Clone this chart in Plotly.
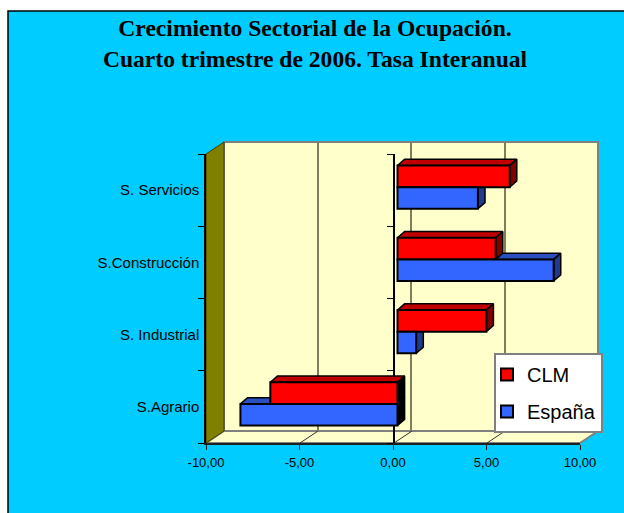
import plotly.graph_objects as go

categories = ["S.Agrario", "S. Industrial", "S.Construcción", "S. Servicios"]
clm = [-6.8, 4.75, 5.25, 6.0]
espana = [-8.4, 1.0, 8.35, 4.3]
x_ticks = [-10, -5, 0, 5, 10]
x_tick_labels = ["-10,00", "-5,00", "0,00", "5,00", "10,00"]

W, H = 624, 513
BLUE, RED = "#3366FF", "#FF0000"
BG = "#00CCFF"
WALL = "#FFFFCC"
OLIVE = "#808000"
GREY = "#808080"

def xd(a, b):
    return [a / W, b / W]

def yd(bottom, top):
    return [1 - bottom / H, 1 - top / H]

def px(x):
    return x / W

def py(y):
    return 1 - y / H

fig = go.Figure()

# back wall grid
fig.add_trace(go.Scatter(x=[], y=[], xaxis="x2", yaxis="y2", showlegend=False))

# depth faces of the bars, derived from the data
DX, DY, BH = 0.38, 0.085, 0.3

def faces(values, base, top_col, side_col):
    for i, v in enumerate(values):
        y0, y1 = i + base, i + base + BH
        lo, hi = min(v, 0), max(v, 0)
        fig.add_trace(go.Scatter(
            x=[lo, hi, hi + DX, lo + DX, lo], y=[y1, y1, y1 + DY, y1 + DY, y1],
            xaxis="x3", yaxis="y3", mode="lines", fill="toself", fillcolor=top_col,
            line=dict(color="black", width=1.5), showlegend=False, hoverinfo="skip"))
        fig.add_trace(go.Scatter(
            x=[hi, hi + DX, hi + DX, hi, hi], y=[y0, y0 + DY, y1 + DY, y1, y0],
            xaxis="x3", yaxis="y3", mode="lines", fill="toself",
            fillcolor="#000000" if v < 0 else side_col,
            line=dict(color="black", width=1.5), showlegend=False, hoverinfo="skip"))

faces(espana, -BH, "#2A4FBF", "#1F3A8F")
faces(clm, 0, "#C00000", "#800000")

# CLM first: it leads the legend and, on the reversed axis, sits on top in each group
fig.add_trace(go.Bar(name="CLM", y=categories, x=clm, orientation="h", legendgroup="clm",
                     xaxis="x4", yaxis="y4", marker=dict(color=RED, line=dict(color="black", width=2))))
fig.add_trace(go.Bar(name="España", y=categories, x=espana, orientation="h", legendgroup="esp",
                     xaxis="x4", yaxis="y4", marker=dict(color=BLUE, line=dict(color="black", width=2))))

# front axes and the axis at zero
fig.add_trace(go.Scatter(x=[0], y=[categories[0]], xaxis="x", yaxis="y", mode="none",
                         showlegend=False, hoverinfo="skip"))
fig.add_trace(go.Scatter(x=[0], y=[categories[0]], xaxis="x", yaxis="y5", mode="none",
                         showlegend=False, hoverinfo="skip"))

shapes = [
    dict(type="rect", xref="paper", yref="paper", x0=px(8), x1=px(640), y0=py(11), y1=py(530),
         fillcolor=BG, line=dict(color="black", width=1.5), layer="below"),
    dict(type="rect", xref="paper", yref="paper", x0=px(224), x1=px(598), y0=py(431), y1=py(142),
         fillcolor=WALL, line=dict(color=GREY, width=2), layer="below"),
    dict(type="path", xref="paper", yref="paper",
         path=f"M {px(206)} {py(443)} L {px(224)} {py(431)} L {px(598)} {py(431)} L {px(580)} {py(443)} Z",
         fillcolor=WALL, line=dict(color=GREY, width=2), layer="below"),
    dict(type="path", xref="paper", yref="paper",
         path=f"M {px(206)} {py(154)} L {px(224)} {py(142)} L {px(224)} {py(431)} L {px(206)} {py(443)} Z",
         fillcolor=OLIVE, line=dict(color="#404000", width=1), layer="below"),
]
for xa in [300, 394, 487]:
    shapes.append(dict(type="line", xref="paper", yref="paper", x0=px(xa), x1=px(xa + 18),
                       y0=py(443), y1=py(431), line=dict(color="#303030", width=1), layer="below"))

hidden = dict(visible=False, range=[-10, 10])
hidden_y = dict(visible=False, range=[-0.5, 3.5])
cat_kw = dict(type="category", categoryorder="array", categoryarray=categories, range=[-0.5, 3.5])
tick_font = dict(family="Liberation Sans, Arial", size=13, color="#000000")
cat_font = dict(family="Liberation Sans, Arial", size=15, color="#000000")

fig.update_layout(
    width=W, height=H, autosize=False,
    margin=dict(l=0, r=0, t=0, b=0, autoexpand=False),
    paper_bgcolor="white", plot_bgcolor="rgba(0,0,0,0)",
    separators=",.",
    barmode="group", bargap=0.4, bargroupgap=0,
    shapes=shapes,
    title=dict(text="<b>Crecimiento Sectorial de la Ocupación.<br>Cuarto trimestre de 2006. Tasa Interanual</b>",
               font=dict(family="Liberation Serif, Times New Roman", size=23.6, color="black"),
               x=315 / W, xanchor="center", y=py(36), yanchor="top"),
    xaxis=dict(domain=xd(206, 580), range=[-10, 10], tickmode="array", tickvals=x_ticks,
               ticktext=x_tick_labels, tickfont=tick_font, showgrid=False, zeroline=False,
               showline=True, linecolor="#202020", linewidth=1.5, ticks="outside",
               ticklen=5, tickcolor="#202020", anchor="y", automargin=False, ticklabelstandoff=2),
    yaxis=dict(domain=yd(443, 154), **cat_kw, tickson="boundaries", tickfont=cat_font,
               showgrid=False, zeroline=False, showline=True, linecolor="black", linewidth=1.5,
               ticks="outside", ticklen=6, tickcolor="black", anchor="x", automargin=False,
               ticklabelstandoff=2),
    yaxis5=dict(overlaying="y", anchor="free", position=px(394), side="left", **cat_kw,
                tickson="boundaries", showticklabels=False, showgrid=False, zeroline=False,
                showline=True, linecolor="black", linewidth=1.5, ticks="outside", ticklen=6,
                tickcolor="black"),
    xaxis2=dict(domain=xd(224, 598), range=[-10, 10], tickmode="array", tickvals=[-5, 0, 5],
                showticklabels=False, showgrid=True, gridcolor="#7F7F60", gridwidth=1.5,
                zeroline=False, ticks="", anchor="y2"),
    yaxis2=dict(domain=yd(431, 142), range=[-0.5, 3.5], showticklabels=False, showgrid=False,
                zeroline=False, ticks="", anchor="x2"),
    xaxis3=dict(domain=xd(210.5, 584.5), anchor="y3", **hidden),
    yaxis3=dict(domain=yd(440, 151), anchor="x3", **hidden_y),
    xaxis4=dict(domain=xd(210.5, 584.5), anchor="y4", overlaying="x3", **hidden),
    yaxis4=dict(domain=yd(440, 151), anchor="x4", overlaying="y3", visible=False,
                type="category", categoryorder="array", categoryarray=categories[::-1],
                range=[3.5, -0.5]),
    legend=dict(x=px(494), xanchor="left", y=py(353), yanchor="top", traceorder="grouped",
                tracegroupgap=8, indentation=-9,
                bgcolor="white", bordercolor=GREY, borderwidth=2,
                font=dict(family="Liberation Sans, Arial", size=20, color="black"),
                itemclick=False, itemdoubleclick=False),
    showlegend=True,
)

fig.write_html("out.html", config=dict(displayModeBar=False),
               post_script="document.body.style.margin='0';")
